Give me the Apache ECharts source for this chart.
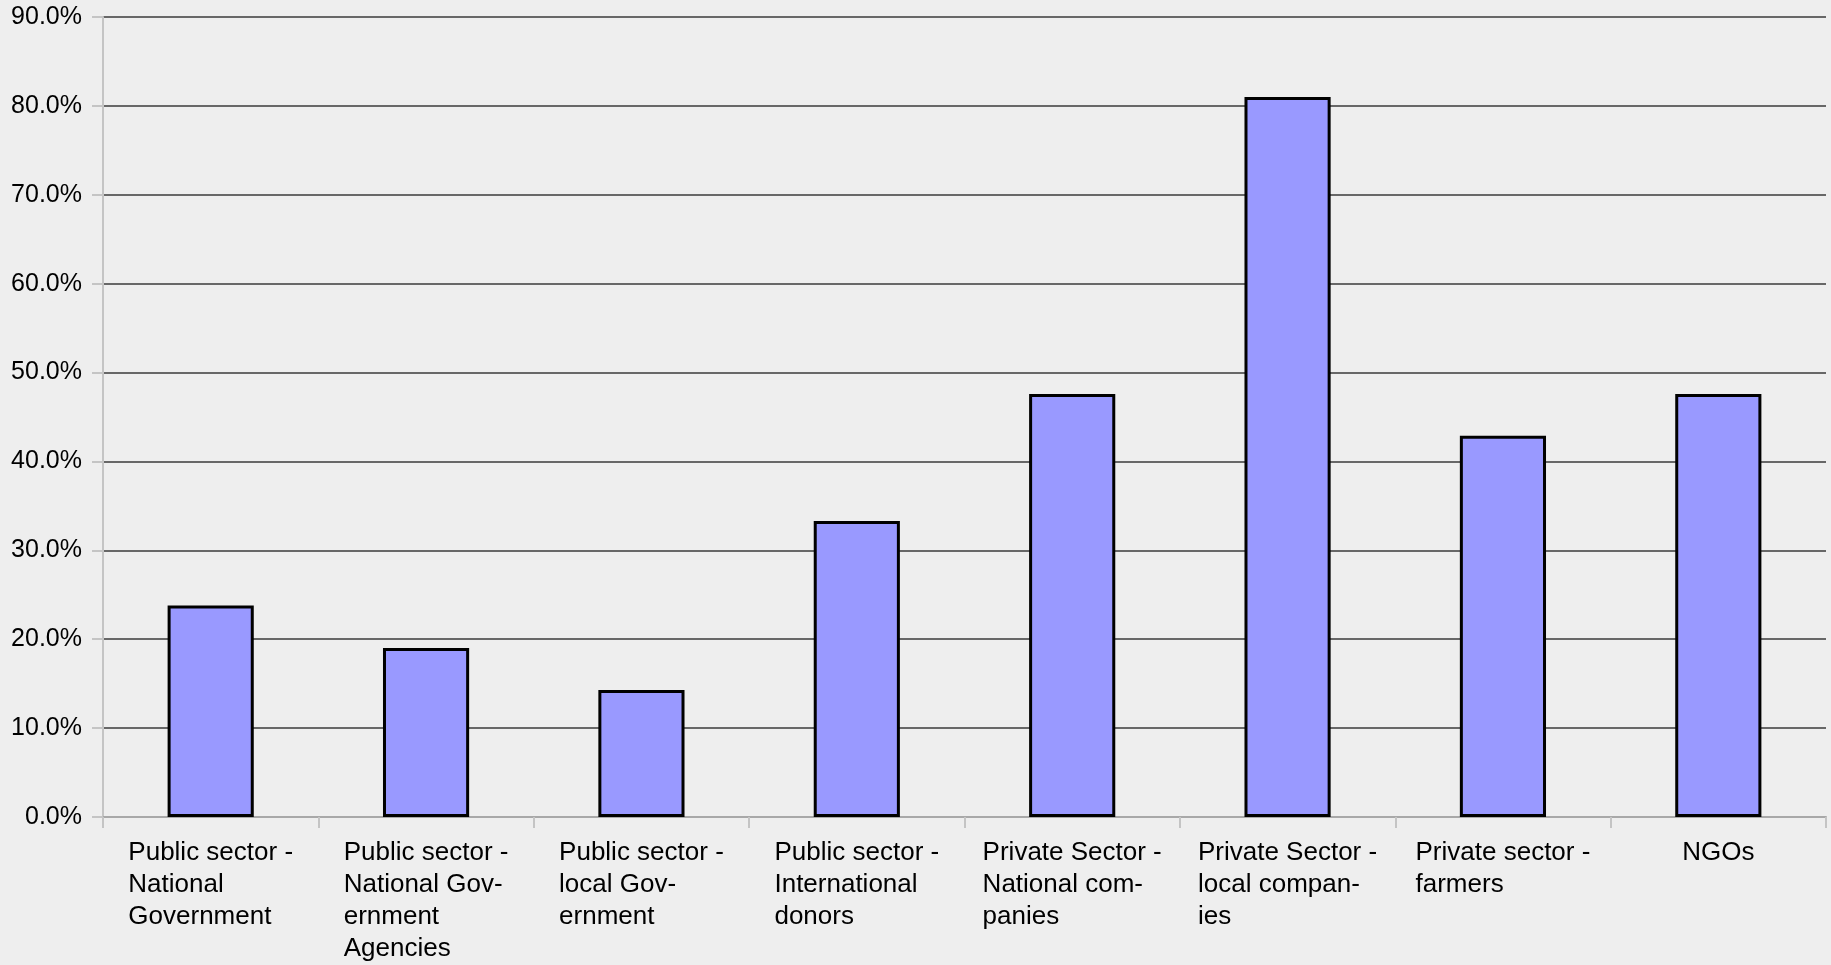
<!DOCTYPE html>
<html>
<head>
<meta charset="utf-8">
<script src="https://cdn.jsdelivr.net/npm/echarts@6/dist/echarts.min.js"></script>
<style>
  html, body { margin: 0; padding: 0; background: #eeeeee; }
  #chart { width: 1831px; height: 965px; }
</style>
</head>
<body>
<div id="chart"></div>
<script>
// Category names, already broken into the lines shown under each bar
const categories = [
  'Public sector -\nNational\nGovernment',
  'Public sector -\nNational Gov-\nernment\nAgencies',
  'Public sector -\nlocal Gov-\nernment',
  'Public sector -\nInternational\ndonors',
  'Private Sector -\nNational com-\npanies',
  'Private Sector -\nlocal compan-\nies',
  'Private sector -\nfarmers',
  'NGOs'
];

// Share of respondents (%)
const shares = [23.8, 19.0, 14.3, 33.3, 47.6, 81.0, 42.9, 47.6];

// Value axis range (%)
const yMin = 0;
const yMax = 90;
const yStep = 10;

const FONT = '"Liberation Sans", Arial, sans-serif';

const chart = echarts.init(document.getElementById('chart'), null, { renderer: 'canvas' });

chart.setOption({
  backgroundColor: '#eeeeee',
  animation: false,
  grid: { left: 103, right: 5, top: 17, bottom: 148, containLabel: false },
  xAxis: {
    type: 'category',
    data: categories,
    boundaryGap: true,
    axisLine: { show: true, lineStyle: { color: '#a8a8a8', width: 2 } },
    axisTick: { show: true, alignWithLabel: false, length: 11, lineStyle: { color: '#c4c4c4', width: 2 } },
    axisLabel: {
      interval: 0,
      margin: 20,
      color: '#000',
      fontFamily: FONT,
      fontSize: 26,
      lineHeight: 32,
      align: 'center',
      // each line is a left-aligned token, so the block stays centred under the bar
      formatter: function (value) {
        return value.split('\n').map(function (line) { return '{t|' + line + '}'; }).join('\n');
      },
      rich: {
        t: { fontFamily: FONT, fontSize: 26, lineHeight: 32, color: '#000', align: 'left' }
      }
    },
    splitLine: { show: false }
  },
  yAxis: {
    type: 'value',
    min: yMin,
    max: yMax,
    interval: yStep,
    axisLine: { show: true, lineStyle: { color: '#c4c4c4', width: 2 } },
    axisTick: { show: true, length: 11, lineStyle: { color: '#c4c4c4', width: 2 } },
    axisLabel: {
      margin: 21,
      color: '#000',
      fontFamily: FONT,
      fontSize: 25,
      formatter: function (v) { return v.toFixed(1) + '%'; }
    },
    splitLine: { show: true, lineStyle: { color: '#3a3a3a', width: 1.5 } }
  },
  series: [{
    type: 'bar',
    data: shares,
    barWidth: '40%',
    itemStyle: { color: '#9999ff', borderColor: '#000', borderWidth: 3 }
  }]
});
</script>
</body>
</html>
